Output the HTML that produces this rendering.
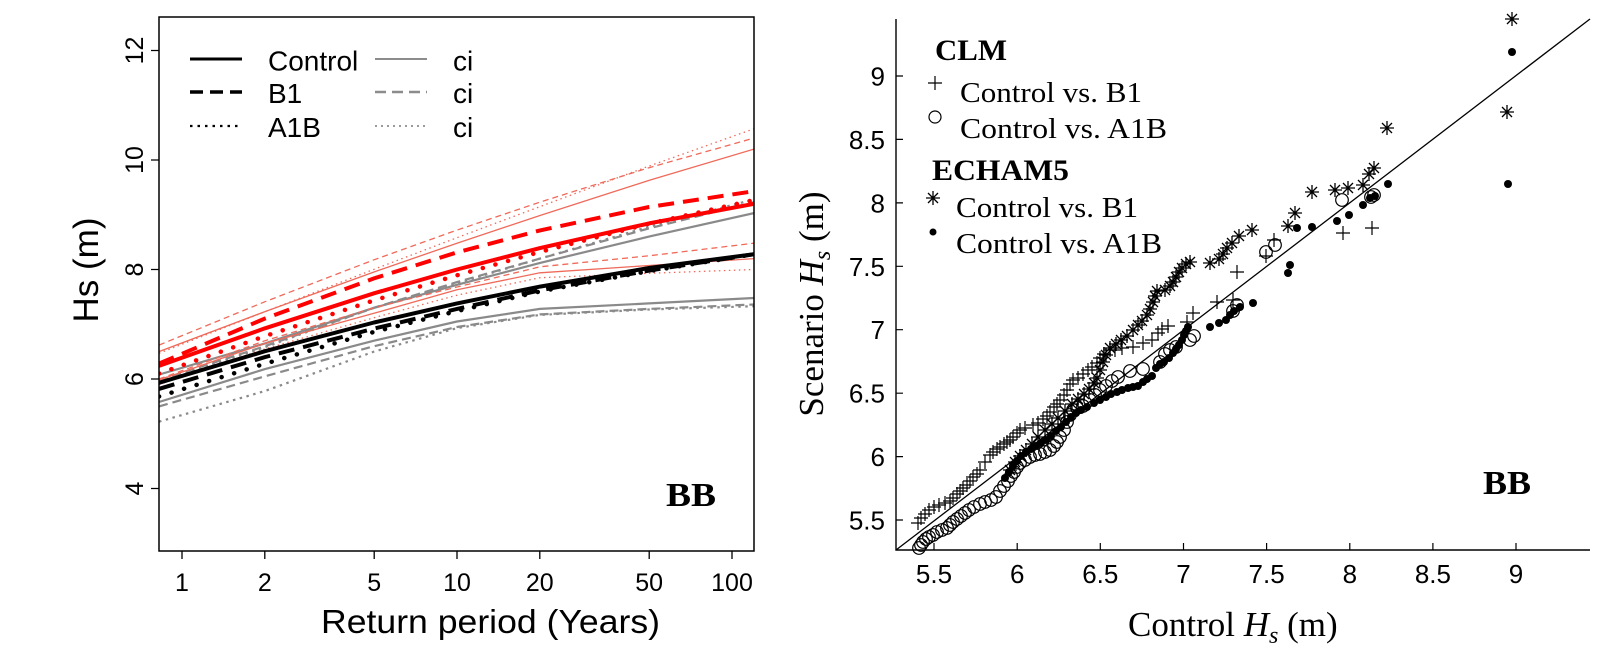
<!DOCTYPE html>
<html><head><meta charset="utf-8"><style>
html,body{margin:0;padding:0;background:#fff;}
svg{display:block;}
</style></head><body>
<svg width="1610" height="647" viewBox="0 0 1610 647" xmlns="http://www.w3.org/2000/svg">
<defs>
<clipPath id="lc"><rect x="159" y="17" width="595" height="534"/></clipPath>
<g id="pl"><path d="M-7 0H7M0 -7V7" stroke="#000" stroke-width="1.2" fill="none"/></g>
<g id="ci"><circle r="6.3" fill="none" stroke="#000" stroke-width="1.2"/></g>
<g id="st"><path d="M-7 0H7M0 -7V7M-5 -5L5 5M-5 5L5 -5" stroke="#000" stroke-width="1.3" fill="none"/></g>
<g id="dt"><circle r="4" fill="#000"/></g>
</defs>
<rect width="1610" height="647" fill="#fff"/>

<!-- LEFT PANEL -->
<g clip-path="url(#lc)" fill="none" stroke-linejoin="round">
 <g stroke="#8a8a8a" stroke-width="2.2">
  <polyline points="159,374.6 265,343.4 374,307.8 457,284.8 540,262.9 649,236.6 754,213.1"/>
  <polyline stroke-dasharray="9 5" points="159,380.1 265,346.2 374,307.8 457,282.1 540,258.6 649,228.4 754,202.2"/>
  <polyline stroke-dasharray="2.5 4.5" points="159,381.7 265,347.2 374,307.8 457,283.2 540,258.6 649,226.8 754,199.4"/>
  <polyline points="159,402 265,369.1 374,340.7 457,321.5 540,308.9 649,303.4 754,298"/>
  <polyline stroke-dasharray="9 5" points="159,406.4 265,376.3 374,346.2 457,327 540,314.4 649,308.9 754,304.5"/>
  <polyline stroke-dasharray="2.5 4.5" points="159,421.7 265,391 374,351.6 457,328.1 540,314.9 649,309.5 754,306.2"/>
 </g>
 <g stroke="#ef6a5a" stroke-width="1.3">
  <polyline stroke-dasharray="6 4" points="159,345.1 265,301.7 374,259.8 457,230.1 540,202.1 649,167.7 754,138.1"/>
  <polyline stroke-dasharray="1.5 3.5" points="159,353.3 265,311.7 374,269.3 457,237.7 540,206.6 649,166.1 754,128.8"/>
  <polyline points="159,351.6 265,311.6 374,272 457,243.2 540,215.5 649,180.4 754,149.1"/>
  <polyline points="159,380.1 265,343.4 374,313.3 457,289.8 540,272.8 649,265.5 754,258.6"/>
  <polyline stroke-dasharray="6 4" points="159,379 265,340.7 374,307.8 457,287 540,266.8 649,255.8 754,243.2"/>
  <polyline stroke-dasharray="1.5 3.5" points="159,384.5 265,348.9 374,317.7 457,295.2 540,277.7 649,273.3 754,269.5"/>
 </g>
 <g stroke="#000" stroke-width="4">
  <polyline points="159,382.8 265,351.2 374,322.5 457,303.4 540,286.6 649,268 754,254.2"/>
  <polyline stroke-dasharray="16 9" points="159,388.9 265,357.1 374,328.6 457,308.9 540,290.3 649,270.6 754,254.2"/>
  <polyline stroke-dasharray="0.1 13" stroke-linecap="round" stroke-width="4.5" points="159,396.5 265,363.7 374,331.9 457,311.1 540,291.4 649,271.1 754,254.2"/>
 </g>
 <g stroke="#ff0000" stroke-width="4">
  <polyline points="159,365.9 265,328.3 374,293.3 457,269.5 540,248.1 649,223.4 754,203.8"/>
  <polyline stroke-dasharray="16 9" points="159,363.6 265,318.5 374,278.4 457,252.4 540,230.4 649,207 754,191.2"/>
  <polyline stroke-dasharray="0.1 13" stroke-linecap="round" stroke-width="4.5" points="159,373.5 265,336.1 374,300.4 457,275.3 540,251.9 649,223.7 754,200"/>
 </g>
</g>
<rect x="159" y="17" width="595" height="534" fill="none" stroke="#000" stroke-width="1.5"/>
<path d="M182 551V559M264.8 551V559M374.2 551V559M457 551V559M539.8 551V559M649.2 551V559M732 551V559M159 488.5H151M159 379H151M159 269.5H151M159 160H151M159 50.5H151" stroke="#000" stroke-width="1.3"/>
<g font-family="'Liberation Sans', Arial, sans-serif" font-size="25" fill="#000" text-anchor="middle">
 <text x="182" y="591">1</text>
 <text x="264.8" y="591">2</text>
 <text x="374.2" y="591">5</text>
 <text x="457" y="591">10</text>
 <text x="539.8" y="591">20</text>
 <text x="649.2" y="591">50</text>
 <text x="732" y="591">100</text>
 <text transform="translate(143,488.5) rotate(-90)">4</text>
 <text transform="translate(143,379) rotate(-90)">6</text>
 <text transform="translate(143,269.5) rotate(-90)">8</text>
 <text transform="translate(143,160) rotate(-90)">10</text>
 <text transform="translate(143,50.5) rotate(-90)">12</text>
 <text transform="translate(98,270) rotate(-90)" font-size="35">Hs (m)</text>
</g>
<text x="321" y="633" font-family="'Liberation Sans', Arial, sans-serif" font-size="33" textLength="339" lengthAdjust="spacingAndGlyphs">Return period (Years)</text>
<g fill="none">
 <line x1="190" y1="59" x2="242" y2="59" stroke="#000" stroke-width="3"/>
 <line x1="190" y1="92" x2="242" y2="92" stroke="#000" stroke-width="3.5" stroke-dasharray="13 7"/>
 <line x1="190" y1="126" x2="242" y2="126" stroke="#000" stroke-width="2.2" stroke-dasharray="2.5 5"/>
 <line x1="375" y1="59" x2="427" y2="59" stroke="#8c8c8c" stroke-width="2"/>
 <line x1="375" y1="92" x2="427" y2="92" stroke="#8c8c8c" stroke-width="2.5" stroke-dasharray="11 6"/>
 <line x1="375" y1="126" x2="427" y2="126" stroke="#8c8c8c" stroke-width="1.7" stroke-dasharray="2 4"/>
</g>
<g font-family="'Liberation Sans', Arial, sans-serif" font-size="28" fill="#000">
 <text x="268" y="70.5">Control</text>
 <text x="268" y="103">B1</text>
 <text x="268" y="137">A1B</text>
 <text x="453" y="70.5">ci</text>
 <text x="453" y="103">ci</text>
 <text x="453" y="137">ci</text>
</g>
<text x="666" y="506" font-family="'Liberation Serif', 'Times New Roman', serif" font-weight="bold" font-size="34" textLength="50" lengthAdjust="spacingAndGlyphs">BB</text>

<!-- RIGHT PANEL -->
<line x1="896" y1="550" x2="1590" y2="19" stroke="#000" stroke-width="1.3"/>
<path d="M896 19V550H1590" fill="none" stroke="#000" stroke-width="1.4"/>
<path d="M896 76H903M896 139.4H903M896 202.9H903M896 266.3H903M896 329.7H903M896 393.2H903M896 456.6H903M896 520H903M934 550V543M1017.2 550V543M1100.3 550V543M1183.5 550V543M1266.6 550V543M1349.8 550V543M1432.9 550V543M1516 550V543" stroke="#000" stroke-width="1.2"/>
<g font-family="'Liberation Sans', Arial, sans-serif" font-size="26" fill="#000" text-anchor="end">
 <text x="885" y="85.5">9</text>
 <text x="885" y="149">8.5</text>
 <text x="885" y="212.4">8</text>
 <text x="885" y="275.8">7.5</text>
 <text x="885" y="339.2">7</text>
 <text x="885" y="402.7">6.5</text>
 <text x="885" y="466.1">6</text>
 <text x="885" y="529.5">5.5</text>
</g>
<g font-family="'Liberation Sans', Arial, sans-serif" font-size="26" fill="#000" text-anchor="middle">
 <text x="934" y="583">5.5</text>
 <text x="1017.2" y="583">6</text>
 <text x="1100.3" y="583">6.5</text>
 <text x="1183.5" y="583">7</text>
 <text x="1266.6" y="583">7.5</text>
 <text x="1349.8" y="583">8</text>
 <text x="1432.9" y="583">8.5</text>
 <text x="1516" y="583">9</text>
</g>
<g font-family="'Liberation Serif', 'Times New Roman', serif" fill="#000">
 <text x="1128" y="636" font-size="35">Control <tspan font-style="italic">H</tspan><tspan font-style="italic" font-size="24" dy="7">s</tspan><tspan dy="-7"> (m)</tspan></text>
 <text transform="translate(823,304) rotate(-90)" text-anchor="middle" font-size="35">Scenario <tspan font-style="italic">H</tspan><tspan font-style="italic" font-size="24" dy="7">s</tspan><tspan dy="-7"> (m)</tspan></text>
 <text x="935" y="60" font-weight="bold" font-size="30" textLength="72" lengthAdjust="spacingAndGlyphs">CLM</text>
 <text x="960" y="102" font-size="28" textLength="182" lengthAdjust="spacingAndGlyphs">Control vs. B1</text>
 <text x="960" y="138" font-size="28" textLength="207" lengthAdjust="spacingAndGlyphs">Control vs. A1B</text>
 <text x="932" y="180" font-weight="bold" font-size="30" textLength="137" lengthAdjust="spacingAndGlyphs">ECHAM5</text>
 <text x="956" y="217" font-size="28" textLength="182" lengthAdjust="spacingAndGlyphs">Control vs. B1</text>
 <text x="956" y="253" font-size="28" textLength="206" lengthAdjust="spacingAndGlyphs">Control vs. A1B</text>
 <text x="1483" y="494" font-weight="bold" font-size="34" textLength="48" lengthAdjust="spacingAndGlyphs">BB</text>
</g>
<use href="#pl" x="935" y="83"/>
<circle cx="935" cy="117" r="6" fill="none" stroke="#000" stroke-width="1.2"/>
<use href="#st" x="933" y="198"/>
<circle cx="933" cy="232" r="3.5" fill="#000"/>

<g>
<use href="#pl" x="918" y="523"/><use href="#pl" x="921" y="518"/><use href="#pl" x="925" y="514"/><use href="#pl" x="929" y="510"/><use href="#pl" x="934" y="507"/><use href="#pl" x="939" y="505"/><use href="#pl" x="945" y="503"/><use href="#pl" x="950" y="501"/><use href="#pl" x="953" y="498"/><use href="#pl" x="957" y="494"/><use href="#pl" x="960" y="491"/><use href="#pl" x="963" y="488"/><use href="#pl" x="967" y="485"/><use href="#pl" x="970" y="481"/><use href="#pl" x="973" y="477"/><use href="#pl" x="977" y="474"/><use href="#pl" x="980" y="470"/><use href="#pl" x="985" y="462"/><use href="#pl" x="990" y="455"/><use href="#pl" x="993" y="452"/><use href="#pl" x="997" y="449"/><use href="#pl" x="1000" y="447"/><use href="#pl" x="1004" y="444"/><use href="#pl" x="1007" y="442"/><use href="#pl" x="1010" y="440"/><use href="#pl" x="1013" y="437"/><use href="#pl" x="1017" y="433"/><use href="#pl" x="1020" y="430"/><use href="#pl" x="1025" y="428"/><use href="#pl" x="1033" y="425"/><use href="#pl" x="1038" y="423"/><use href="#pl" x="1043" y="419"/><use href="#pl" x="1047" y="416"/><use href="#pl" x="1050" y="412"/><use href="#pl" x="1054" y="407"/><use href="#pl" x="1057" y="404"/><use href="#pl" x="1060" y="400"/><use href="#pl" x="1064" y="395"/><use href="#pl" x="1067" y="390"/><use href="#pl" x="1070" y="384"/><use href="#pl" x="1073" y="380"/><use href="#pl" x="1078" y="378"/><use href="#pl" x="1083" y="374"/><use href="#pl" x="1088" y="370"/><use href="#pl" x="1092" y="367"/><use href="#pl" x="1097" y="363"/><use href="#pl" x="1100" y="358"/><use href="#pl" x="1104" y="354"/><use href="#pl" x="1110" y="350"/><use href="#pl" x="1115" y="350"/><use href="#pl" x="1122" y="348"/><use href="#pl" x="1133" y="347"/><use href="#pl" x="1143" y="343"/><use href="#pl" x="1152" y="340"/><use href="#pl" x="1158" y="333"/><use href="#pl" x="1162" y="329"/><use href="#pl" x="1168" y="326"/><use href="#pl" x="1187" y="322"/><use href="#pl" x="1193" y="313"/><use href="#pl" x="1217" y="302"/><use href="#pl" x="1233" y="300"/><use href="#pl" x="1237" y="272"/><use href="#pl" x="1266" y="256"/><use href="#pl" x="1274" y="240"/><use href="#pl" x="1343" y="233"/><use href="#pl" x="1372" y="228"/>
</g>
<g>
<use href="#ci" x="919" y="548"/><use href="#ci" x="921" y="545"/><use href="#ci" x="923" y="542"/><use href="#ci" x="926" y="539"/><use href="#ci" x="929" y="537"/><use href="#ci" x="933" y="535"/><use href="#ci" x="937" y="532"/><use href="#ci" x="942" y="530"/><use href="#ci" x="947" y="528"/><use href="#ci" x="950" y="525"/><use href="#ci" x="953" y="522"/><use href="#ci" x="957" y="519"/><use href="#ci" x="961" y="516"/><use href="#ci" x="965" y="513"/><use href="#ci" x="969" y="510"/><use href="#ci" x="974" y="507"/><use href="#ci" x="980" y="504"/><use href="#ci" x="985" y="502"/><use href="#ci" x="991" y="500"/><use href="#ci" x="996" y="497"/><use href="#ci" x="1000" y="491"/><use href="#ci" x="1004" y="486"/><use href="#ci" x="1008" y="481"/><use href="#ci" x="1011" y="476"/><use href="#ci" x="1014" y="472"/><use href="#ci" x="1017" y="467"/><use href="#ci" x="1020" y="463"/><use href="#ci" x="1025" y="460"/><use href="#ci" x="1030" y="457"/><use href="#ci" x="1035" y="455"/><use href="#ci" x="1040" y="454"/><use href="#ci" x="1045" y="452"/><use href="#ci" x="1050" y="450"/><use href="#ci" x="1054" y="446"/><use href="#ci" x="1057" y="442"/><use href="#ci" x="1060" y="437"/><use href="#ci" x="1064" y="430"/><use href="#ci" x="1067" y="422"/><use href="#ci" x="1070" y="415"/><use href="#ci" x="1073" y="410"/><use href="#ci" x="1077" y="408"/><use href="#ci" x="1083" y="406"/><use href="#ci" x="1090" y="400"/><use href="#ci" x="1095" y="395"/><use href="#ci" x="1100" y="390"/><use href="#ci" x="1106" y="386"/><use href="#ci" x="1112" y="381"/><use href="#ci" x="1118" y="377"/><use href="#ci" x="1130" y="371"/><use href="#ci" x="1143" y="369"/><use href="#ci" x="1160" y="362"/><use href="#ci" x="1165" y="354"/><use href="#ci" x="1170" y="350"/><use href="#ci" x="1176" y="347"/><use href="#ci" x="1190" y="340"/><use href="#ci" x="1194" y="336"/><use href="#ci" x="1233" y="311"/><use href="#ci" x="1237" y="305"/><use href="#ci" x="1266" y="252"/><use href="#ci" x="1275" y="245"/><use href="#ci" x="1342" y="200"/><use href="#ci" x="1371" y="197"/><use href="#ci" x="1374" y="195"/>
</g>
<g>
<use href="#st" x="1010" y="470"/><use href="#st" x="1015" y="462"/><use href="#st" x="1020" y="456"/><use href="#st" x="1026" y="450"/><use href="#st" x="1032" y="444"/><use href="#st" x="1038" y="437"/><use href="#st" x="1045" y="430"/><use href="#st" x="1052" y="424"/><use href="#st" x="1058" y="418"/><use href="#st" x="1065" y="411"/><use href="#st" x="1072" y="404"/><use href="#st" x="1078" y="399"/><use href="#st" x="1084" y="394"/><use href="#st" x="1089" y="389"/><use href="#st" x="1094" y="383"/><use href="#st" x="1097" y="378"/><use href="#st" x="1100" y="370"/><use href="#st" x="1103" y="362"/><use href="#st" x="1106" y="355"/><use href="#st" x="1110" y="348"/><use href="#st" x="1116" y="344"/><use href="#st" x="1121" y="340"/><use href="#st" x="1127" y="336"/><use href="#st" x="1133" y="330"/><use href="#st" x="1138" y="325"/><use href="#st" x="1142" y="321"/><use href="#st" x="1147" y="315"/><use href="#st" x="1150" y="309"/><use href="#st" x="1153" y="302"/><use href="#st" x="1155" y="296"/><use href="#st" x="1157" y="291"/><use href="#st" x="1165" y="290"/><use href="#st" x="1170" y="286"/><use href="#st" x="1173" y="282"/><use href="#st" x="1176" y="277"/><use href="#st" x="1179" y="272"/><use href="#st" x="1182" y="268"/><use href="#st" x="1186" y="264"/><use href="#st" x="1190" y="262"/><use href="#st" x="1210" y="263"/><use href="#st" x="1219" y="259"/><use href="#st" x="1223" y="254"/><use href="#st" x="1227" y="248"/><use href="#st" x="1232" y="243"/><use href="#st" x="1239" y="236"/><use href="#st" x="1252" y="230"/><use href="#st" x="1288" y="226"/><use href="#st" x="1295" y="213"/><use href="#st" x="1312" y="192"/><use href="#st" x="1335" y="190"/><use href="#st" x="1348" y="188"/><use href="#st" x="1363" y="185"/><use href="#st" x="1369" y="174"/><use href="#st" x="1374" y="168"/><use href="#st" x="1387" y="128"/><use href="#st" x="1507" y="112"/><use href="#st" x="1512" y="19"/>
</g>
<g>
<use href="#dt" x="1005" y="478"/><use href="#dt" x="1009" y="472"/><use href="#dt" x="1013" y="466"/><use href="#dt" x="1017" y="461"/><use href="#dt" x="1021" y="456"/><use href="#dt" x="1026" y="452"/><use href="#dt" x="1031" y="449"/><use href="#dt" x="1036" y="446"/><use href="#dt" x="1041" y="443"/><use href="#dt" x="1046" y="440"/><use href="#dt" x="1051" y="436"/><use href="#dt" x="1056" y="431"/><use href="#dt" x="1061" y="427"/><use href="#dt" x="1066" y="422"/><use href="#dt" x="1071" y="417"/><use href="#dt" x="1076" y="413"/><use href="#dt" x="1081" y="410"/><use href="#dt" x="1087" y="407"/><use href="#dt" x="1094" y="403"/><use href="#dt" x="1100" y="400"/><use href="#dt" x="1106" y="397"/><use href="#dt" x="1111" y="394"/><use href="#dt" x="1117" y="392"/><use href="#dt" x="1122" y="390"/><use href="#dt" x="1128" y="388"/><use href="#dt" x="1133" y="387"/><use href="#dt" x="1138" y="386"/><use href="#dt" x="1143" y="382"/><use href="#dt" x="1147" y="379"/><use href="#dt" x="1152" y="376"/><use href="#dt" x="1156" y="368"/><use href="#dt" x="1160" y="364"/><use href="#dt" x="1164" y="362"/><use href="#dt" x="1169" y="358"/><use href="#dt" x="1173" y="353"/><use href="#dt" x="1176" y="349"/><use href="#dt" x="1179" y="345"/><use href="#dt" x="1182" y="340"/><use href="#dt" x="1184" y="335"/><use href="#dt" x="1186" y="331"/><use href="#dt" x="1188" y="327"/><use href="#dt" x="1210" y="327"/><use href="#dt" x="1219" y="323"/><use href="#dt" x="1226" y="320"/><use href="#dt" x="1230" y="315"/><use href="#dt" x="1234" y="311"/><use href="#dt" x="1240" y="307"/><use href="#dt" x="1253" y="303"/><use href="#dt" x="1288" y="273"/><use href="#dt" x="1290" y="265"/><use href="#dt" x="1297" y="228"/><use href="#dt" x="1312" y="227"/><use href="#dt" x="1337" y="221"/><use href="#dt" x="1349" y="215"/><use href="#dt" x="1363" y="205"/><use href="#dt" x="1370" y="198"/><use href="#dt" x="1375" y="196"/><use href="#dt" x="1388" y="184"/><use href="#dt" x="1508" y="184"/><use href="#dt" x="1512" y="52"/>
</g>
</svg>
</body></html>
